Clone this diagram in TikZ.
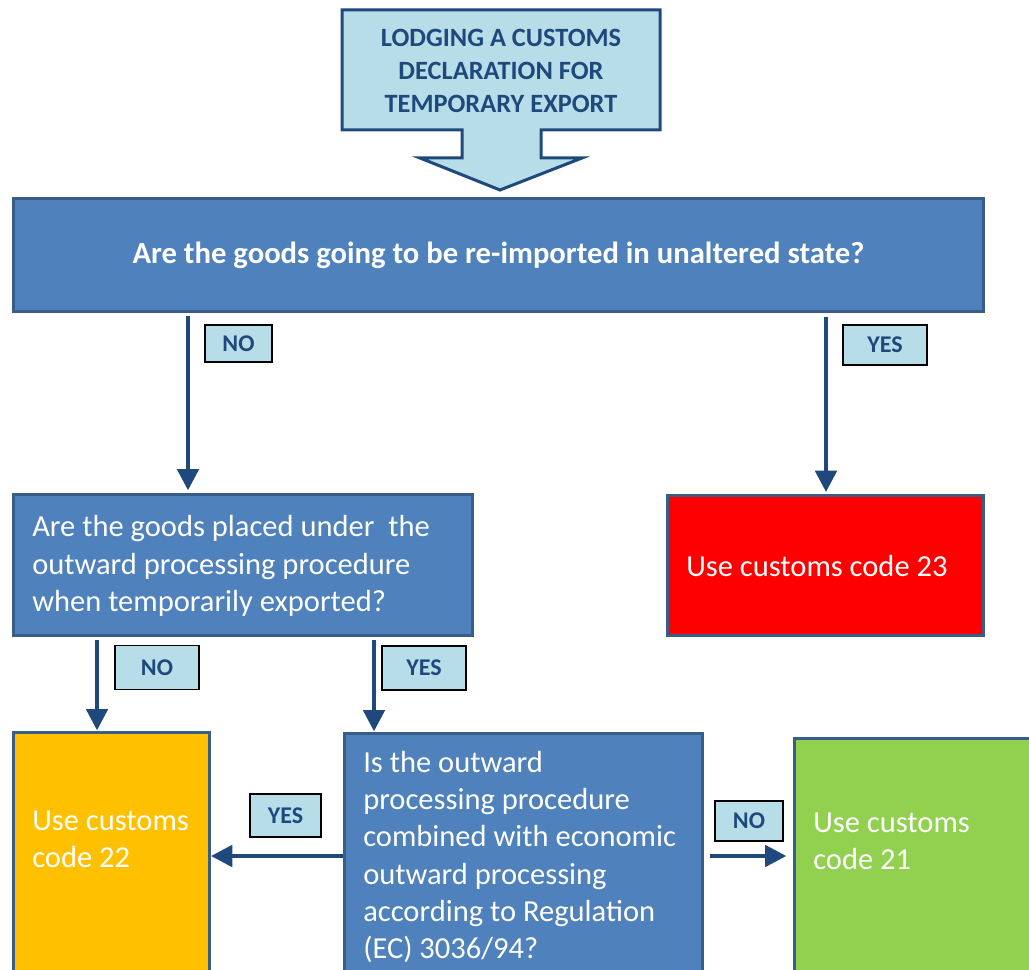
\documentclass[tikz,border=0pt]{standalone}
\usepackage{fontspec}
\setmainfont{Carlito}
\usetikzlibrary{arrows.meta}
\definecolor{qblue}{HTML}{4F81BD}
\definecolor{qborder}{HTML}{385D8A}
\definecolor{dkblue}{HTML}{1F497D}
\definecolor{ltblue}{HTML}{B7DEE8}
\definecolor{cred}{HTML}{FF0000}
\definecolor{corange}{HTML}{FFC000}
\definecolor{cgreen}{HTML}{92D050}
\begin{document}
\begin{tikzpicture}[x=0.75pt,y=-0.75pt,
  box/.style={draw=qborder, line width=2.25pt, anchor=north west, inner sep=0pt},
  qbox/.style={box, fill=qblue},
  bodytxt/.style={text=white, font=\fontsize{22.9}{28}\selectfont, align=left, anchor=west, inner sep=0pt},
  lab/.style={fill=ltblue, draw=black, line width=1.1pt, text=dkblue, font=\bfseries\fontsize{18}{20}\selectfont, inner sep=0pt},
  arr/.style={draw=dkblue, line width=3pt, -{Triangle[length=16pt,width=16pt]}},
]
\useasboundingbox (0,0) rectangle (1029,970);
\clip (0,0) rectangle (1029,970);

% top callout
\draw[fill=ltblue, draw=dkblue, line width=2.25pt, line join=miter]
  (342,10) -- (660,10) -- (660,130) -- (541,130) -- (541,158) -- (582,158) -- (500,190)
  -- (420,158) -- (462,158) -- (462,130) -- (342,130) -- cycle;
\node[text=dkblue, font=\bfseries\fontsize{19.8}{24.5}\selectfont, align=center] (title) at (501,71)
  {LODGING A CUSTOMS\\DECLARATION FOR\\TEMPORARY EXPORT};

% question 1
\node[qbox, minimum width=727.5pt, minimum height=84.75pt, text=white,
      font=\bfseries\fontsize{23}{27}\selectfont] (q1) at (12,197)
  {Are the goods going to be re-imported in unaltered state?};

% question 2
\node[qbox, minimum width=344.25pt, minimum height=105.75pt] (q2) at (12,493) {};
\node[bodytxt] (q2t) at (32,566) {Are the goods placed under \ the\\outward processing procedure\\when temporarily exported?};

% code 23
\node[box, fill=cred, minimum width=237pt, minimum height=105pt] (c23) at (666,494) {};
\node[bodytxt] (c23t) at (686,566) {Use customs code 23};

% code 22
\node[box, fill=corange, minimum width=147pt, minimum height=200pt] (c22) at (12,731) {};
\node[bodytxt] (c22t) at (32,839) {Use customs\\code 22};

% question 3
\node[qbox, minimum width=268.5pt, minimum height=200pt] (q3) at (343,732) {};
\node[bodytxt] (q3t) at (363,857) {Is the outward\\processing procedure\\combined with economic\\outward processing\\according to Regulation\\(EC) 3036/94?};

% code 21
\node[box, fill=cgreen, minimum width=200pt, minimum height=200pt] (c21) at (793,737) {};
\node[bodytxt] (c21t) at (813,841) {Use customs\\code 21};

% x / y references
\coordinate (xa) at (188,0);
\coordinate (xb) at (826,0);
\coordinate (xc) at (97,0);
\coordinate (xd) at (374,0);
\coordinate (yr) at (0,856);

% connectors
\draw[arr, shorten <=2pt, shorten >=2pt] (q1.south -| xa) -- (q2.north -| xa);
\draw[arr, shorten <=3pt, shorten >=1.5pt] (q1.south -| xb) -- (c23.north -| xb);
\draw[arr, shorten <=2pt, shorten >=0.5pt] (q2.south -| xc) -- (c22.north -| xc);
\draw[arr, shorten <=2pt, shorten >=0.5pt] (q2.south -| xd) -- (q3.north -| xd);
\draw[arr, shorten <=0pt, shorten >=0pt] (q3.west |- yr) -- (c22.east |- yr);
\draw[arr, shorten <=4.5pt, shorten >=5pt] (q3.east |- yr) -- (c21.west |- yr);

% labels
\node[lab, minimum width=50.25pt, minimum height=27.75pt] (l1) at (238.5,343.5) {NO};
\node[lab, minimum width=63pt, minimum height=30pt] (l2) at (885,345) {YES};
\node[lab, minimum width=63pt, minimum height=33pt] (l3) at (157,667.5) {NO};
\node[lab, minimum width=63pt, minimum height=33pt] (l4) at (424,668) {YES};
\node[lab, minimum width=53.25pt, minimum height=32.25pt] (l5) at (285.5,815.5) {YES};
\node[lab, minimum width=51pt, minimum height=30pt] (l6) at (749,821) {NO};
\end{tikzpicture}
\end{document}
